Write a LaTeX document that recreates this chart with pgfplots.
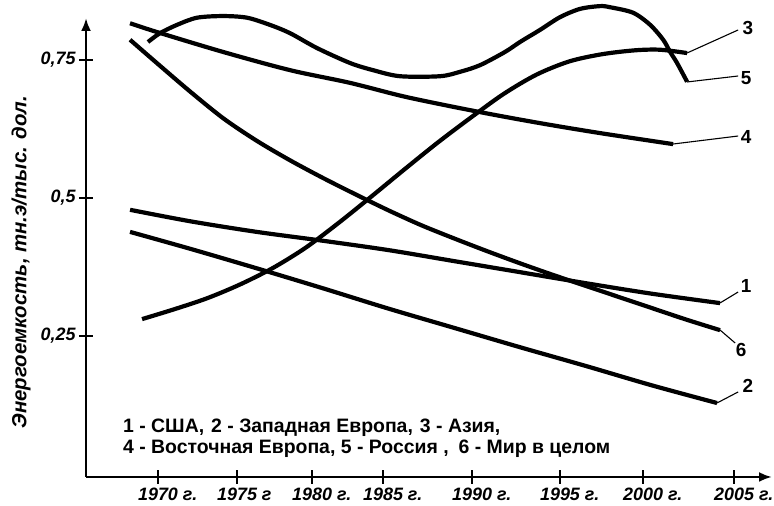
\documentclass[border=0pt]{standalone}
\usepackage{pgfplots}
\pgfplotsset{compat=1.18}
\usepackage{fontspec}
\setmainfont{Liberation Sans}
\usetikzlibrary{arrows.meta}
\begin{document}
\begin{tikzpicture}
\begin{axis}[
  scale only axis, width=686bp, height=459bp,
  xmin=1965.626, xmax=2007.30, ymin=-0.006, ymax=0.8255,
  axis lines=left,
  axis line style={line width=2.8bp, -{Latex[length=13bp,width=10bp]}},
  clip=false,
  xtick={1970,1974.80,1979.36,1983.67,1989.08,1994.42,1999.47,2005},
  xticklabels={1970\rlap{ г.},1975\rlap{ г},1980\rlap{ г.},1985\rlap{ г.},1990\rlap{ г.},1995\rlap{ г.},2000\rlap{ г.},2005\rlap{ г.}},
  ytick={0.25,0.5,0.75},
  yticklabels={{0,25},{0,5},{0,75}},
  tick align=center, major tick length=14bp,
  tick style={line width=2.2bp, black},
  ticklabel style={font=\fontsize{18}{20}\selectfont\bfseries\itshape},
  ylabel={Энергоемкость, тн.э/тыс. дол.},
  ylabel style={at={(rel axis cs:-0.0948,0.468)}, anchor=center, font=\fontsize{20.5}{22}\selectfont\bfseries\itshape},
]
% 1 - USA
\addplot[black, line width=4.2bp, smooth] coordinates {(1968.30,0.478)(1972,0.457)(1976,0.438)(1980,0.422)(1984,0.405)(1988,0.385)(1992,0.365)(1996,0.345)(2000,0.326)(2004.14,0.309)};
% 2 - Western Europe
\addplot[black, line width=4.2bp, smooth] coordinates {(1968.30,0.438)(1972,0.407)(1976,0.372)(1980,0.336)(1984,0.299)(1988,0.264)(1992,0.229)(1996,0.195)(2000,0.160)(2003.96,0.128)};
% 3 - Asia
\addplot[black, line width=4.2bp, smooth] coordinates {(1969.03,0.280)(1971,0.298)(1973,0.318)(1975,0.343)(1977,0.373)(1979,0.410)(1981,0.455)(1983,0.503)(1985,0.552)(1987,0.600)(1989,0.645)(1991,0.688)(1993,0.723)(1995,0.747)(1997,0.760)(1999,0.767)(2000.5,0.768)(2002.14,0.762)};
% 4 - Eastern Europe
\addplot[black, line width=4.2bp, smooth] coordinates {(1968.30,0.816)(1969.94,0.800)(1973.95,0.764)(1978.02,0.731)(1981.66,0.708)(1985.13,0.682)(1989.56,0.655)(1993.21,0.635)(1996.85,0.617)(2001.29,0.597)};
% 5 - Russia
\addplot[black, line width=4.2bp, smooth] coordinates {(1969.39,0.782)(1970.12,0.798)(1971.15,0.813)(1972.37,0.826)(1973.95,0.829)(1975.41,0.826)(1976.80,0.813)(1978.02,0.798)(1979.66,0.771)(1981.66,0.744)(1983.06,0.731)(1984.70,0.720)(1987.13,0.720)(1988.35,0.728)(1989.56,0.740)(1991.08,0.764)(1991.99,0.782)(1993.21,0.804)(1994.42,0.827)(1995.64,0.842)(1996.85,0.847)(1997.46,0.845)(1998.86,0.835)(1999.90,0.813)(2000.69,0.786)(2001.11,0.764)(2001.53,0.744)(2002.14,0.710)};
% 6 - World
\addplot[black, line width=4.2bp, smooth] coordinates {(1968.30,0.786)(1970,0.742)(1972,0.691)(1974,0.643)(1976,0.603)(1978,0.568)(1980,0.536)(1982,0.506)(1984,0.477)(1986,0.450)(1988,0.426)(1990,0.403)(1992,0.381)(1994,0.360)(1996,0.340)(1998,0.320)(2000,0.300)(2002,0.280)(2004.14,0.260)};
% leaders and labels
\begin{scope}[line width=1.1bp]
\draw (axis cs:2002.14,0.7621) -- (axis cs:2005.24,0.8038);
\draw (axis cs:2002.14,0.7096) -- (axis cs:2005.24,0.7204);
\draw (axis cs:2001.29,0.5972) -- (axis cs:2005.24,0.6117);
\draw (axis cs:2004.14,0.3092) -- (axis cs:2005.24,0.3291);
\draw (axis cs:2004.14,0.2603) -- (axis cs:2005.06,0.2367);
\draw (axis cs:2003.96,0.1281) -- (axis cs:2005.24,0.1480);
\end{scope}
\begin{scope}[every node/.style={font=\fontsize{19}{20}\selectfont\bfseries, inner sep=0pt}]
\node at (axis cs:2005.84,0.8074) {3};
\node at (axis cs:2005.72,0.7168) {5};
\node at (axis cs:2005.72,0.6099) {4};
\node at (axis cs:2005.72,0.3400) {1};
\node at (axis cs:2005.42,0.2240) {6};
\node at (axis cs:2005.84,0.1588) {2};
\end{scope}
\node[anchor=north west, align=left, inner sep=0pt, font=\fontsize{19.5}{21}\selectfont\bfseries] at (axis cs:1967.87,0.1000)
 {1 - США,\hspace{7bp}2 - Западная Европа,\hspace{7bp}3 - Азия,\\4 - Восточная Европа, 5 - Россия ,\hspace{10bp}6 - Мир в целом};
\coordinate (BL) at (axis cs:1960.40,-0.0568);
\coordinate (TR) at (axis cs:2007.42,0.8581);
\end{axis}
\pgfresetboundingbox
\useasboundingbox (BL) rectangle (TR);
\end{tikzpicture}
\end{document}
